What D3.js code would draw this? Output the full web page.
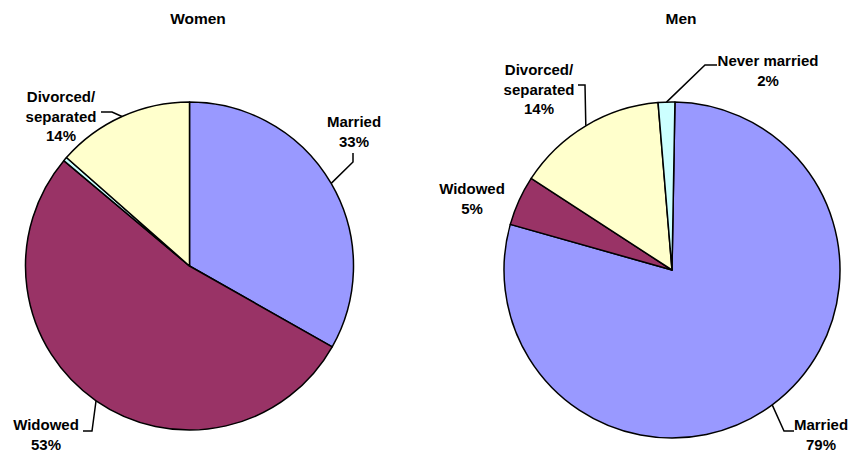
<!DOCTYPE html>
<html>
<head>
<meta charset="utf-8">
<script src="https://cdn.jsdelivr.net/npm/d3@7"></script>
<style>
  body { margin: 0; background: #fff; }
  svg text { font-family: "Liberation Sans", Arial, sans-serif; font-weight: bold; fill: #000; }
</style>
</head>
<body>
<div id="chart"></div>
<script>
// Data
var womenCategories = ["Married", "Widowed", "Never married", "Divorced/separated"];
var womenValues = [33.2, 52.9, 0.4, 13.5];
var womenLabels = ["33%", "53%", "", "14%"];

var menCategories = ["Married", "Widowed", "Divorced/separated", "Never married"];
var menValues = [79.1, 4.8, 14.5, 1.6];
var menLabels = ["79%", "5%", "14%", "2%"];

var colors = {
    "Married": "#9999FF",
    "Widowed": "#993366",
    "Divorced/separated": "#FFFFCC",
    "Never married": "#CCFFFF"
};

var svg = d3.select("#chart").append("svg")
    .attr("width", 852)
    .attr("height", 456);

// label layout: text lines + anchor, and the elbow of the leader (null = no leader)
function drawPie(opts) {
    var pie = d3.pie().sort(null).value(d => d.value)
        .startAngle(opts.start).endAngle(opts.start + 2 * Math.PI);
    var arc = d3.arc().innerRadius(0).outerRadius(opts.r);

    var data = opts.cats.map((c, i) => ({ cat: c, value: opts.values[i], pct: opts.labels[i] }));
    var g = svg.append("g").attr("transform", `translate(${opts.cx},${opts.cy})`);

    g.selectAll("path.slice")
        .data(pie(data))
        .enter().append("path")
        .attr("class", "slice")
        .attr("d", arc)
        .attr("fill", d => colors[d.data.cat])
        .attr("stroke", "#000")
        .attr("stroke-width", 1.5)
        .attr("stroke-linejoin", "round");

    svg.append("text")
        .attr("x", opts.titleX)
        .attr("y", 24)
        .attr("text-anchor", "middle")
        .style("font-size", "15.5px")
        .text(opts.title);

    pie(data).forEach(function(d) {
        var lay = opts.layout[d.data.cat];
        if (!lay) return;
        var mid = (d.startAngle + d.endAngle) / 2;
        var ex = opts.cx + opts.r * Math.sin(mid);
        var ey = opts.cy - opts.r * Math.cos(mid);
        if (lay.leader) {
            var pts = lay.leader.concat([[ex, ey]]);
            svg.append("path")
                .attr("d", d3.line()(pts))
                .attr("fill", "none")
                .attr("stroke", "#000")
                .attr("stroke-width", 1.5);
        }
        var lines = lay.lines.concat([d.data.pct]);
        var t = svg.append("text")
            .attr("text-anchor", "middle")
            .style("font-size", "15px");
        lines.forEach(function(s, i) {
            t.append("tspan")
                .attr("x", lay.x)
                .attr("y", lay.y + i * 19.5)
                .text(s);
        });
    });
}

drawPie({
    title: "Women", titleX: 198,
    cx: 189.5, cy: 266, r: 164, start: 0,
    cats: womenCategories, values: womenValues, labels: womenLabels,
    layout: {
        "Married": { lines: ["Married"], x: 354, y: 127, leader: [[353, 153], [353, 162]] },
        "Widowed": { lines: ["Widowed"], x: 46, y: 430, leader: [[83, 431], [92, 431]] },
        "Divorced/separated": { lines: ["Divorced/", "separated"], x: 61, y: 102, leader: [[101, 112], [112, 112]] }
    }
});

drawPie({
    title: "Men", titleX: 681,
    cx: 672, cy: 270, r: 168, start: Math.PI / 180,
    cats: menCategories, values: menValues, labels: menLabels,
    layout: {
        "Married": { lines: ["Married"], x: 821, y: 430, leader: [[794, 431], [784, 431]] },
        "Widowed": { lines: ["Widowed"], x: 472, y: 194, leader: null },
        "Divorced/separated": { lines: ["Divorced/", "separated"], x: 539, y: 75, leader: [[578, 85], [585, 85]] },
        "Never married": { lines: ["Never married"], x: 768, y: 66, leader: [[717, 65], [705, 65]] }
    }
});
</script>
</body>
</html>
